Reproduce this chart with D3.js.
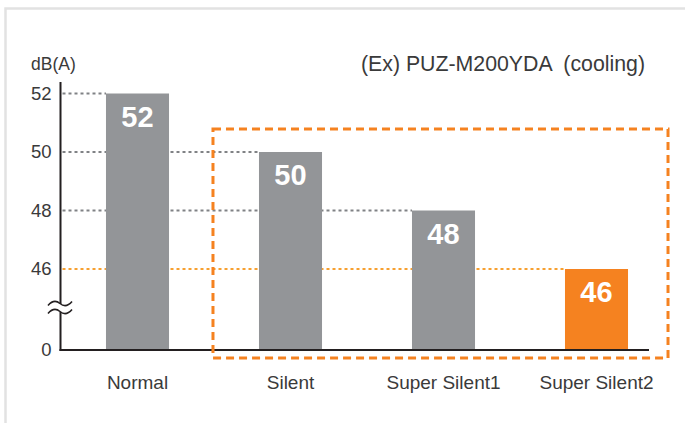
<!DOCTYPE html>
<html><head><meta charset="utf-8">
<script src="https://cdn.jsdelivr.net/npm/d3@7"></script>
<style>body{margin:0;background:#fff;} svg{display:block;font-family:"Liberation Sans",Arial,sans-serif;}</style>
</head><body><svg id="c" width="685" height="423"></svg>
<script>
const categories = ["Normal", "Silent", "Super Silent1", "Super Silent2"];
const values = [52, 50, 48, 46];
const highlighted = ["Silent", "Super Silent1", "Super Silent2"];
const tickValues = [0, 46, 48, 50, 52];
const unitLabel = "dB(A)";
const title = "(Ex) PUZ-M200YDA  (cooling)";

const gray = "#939598", orange = "#f58220";
const svg = d3.select("#c");

// light frame
svg.append("path").attr("d", "M5.5,423 V8.5 H685").attr("fill", "none")
  .attr("stroke", "#e2e2e2").attr("stroke-width", 2.5);

const x = d3.scaleBand().domain(categories).range([61, 673])
  .paddingInner(0.588).paddingOuter(0.294);
const y = d3.scaleLinear().domain([0, 46, 52]).range([350, 269, 93.5]);
const axisX = 60.5, baseY = y(0);

// reference dotted lines
svg.append("g").selectAll("line").data(categories).join("line")
  .attr("x1", axisX + 2).attr("x2", d => x(d))
  .attr("y1", (d, i) => y(values[i])).attr("y2", (d, i) => y(values[i]))
  .attr("stroke", (d, i) => i === categories.length - 1 ? "#f7a030" : "#808285")
  .attr("stroke-width", 2).attr("stroke-dasharray", "3,3");

// bars
svg.append("g").selectAll("rect").data(categories).join("rect")
  .attr("x", d => x(d)).attr("width", x.bandwidth())
  .attr("y", (d, i) => y(values[i])).attr("height", (d, i) => baseY - y(values[i]))
  .attr("fill", (d, i) => i === categories.length - 1 ? orange : gray);

// value labels
svg.append("g").selectAll("text").data(categories).join("text")
  .attr("x", d => x(d) + x.bandwidth() / 2).attr("y", (d, i) => y(values[i]) + 33)
  .attr("text-anchor", "middle").attr("fill", "#fff").attr("font-weight", "bold")
  .attr("font-size", 29).text((d, i) => values[i]);

// y axis ticks
const yAxis = svg.append("g").attr("transform", `translate(${axisX},0)`)
  .call(d3.axisLeft(y).tickValues(tickValues).tickSize(0).tickPadding(9));
yAxis.select(".domain").remove();
yAxis.attr("font-size", 18.5);
yAxis.selectAll("text").attr("font-size", 18.5).attr("fill", "#3a3a3a")
  .attr("font-family", "Liberation Sans, Arial, sans-serif");

// y axis line with break
svg.append("line").attr("x1", axisX).attr("x2", axisX).attr("y1", 82).attr("y2", baseY + 1)
  .attr("stroke", "#231f20").attr("stroke-width", 2);
svg.append("rect").attr("x", axisX - 3).attr("y", 304).attr("width", 6).attr("height", 8).attr("fill", "#fff");
[303.5, 311.5].forEach(yy => {
  svg.append("path").attr("d", `M48,${yy + 2} Q54,${yy - 5} 60,${yy} T72,${yy - 2}`)
    .attr("fill", "none").attr("stroke", "#231f20").attr("stroke-width", 1.6);
});

// x axis
const xAxis = svg.append("g").attr("transform", `translate(0,${baseY})`)
  .call(d3.axisBottom(x).tickSize(0).tickPadding(25.5));
xAxis.select(".domain").remove();
xAxis.attr("font-size", 19);
xAxis.selectAll("text").attr("font-size", 19).attr("fill", "#3a3a3a")
  .attr("font-family", "Liberation Sans, Arial, sans-serif");
svg.append("line").attr("x1", axisX - 1).attr("x2", 649).attr("y1", baseY).attr("y2", baseY)
  .attr("stroke", "#231f20").attr("stroke-width", 2);

// highlight box
const bx0 = x(highlighted[0]) - 46, bx1 = x(highlighted[highlighted.length - 1]) + x.bandwidth() + 40;
svg.append("rect").attr("x", bx0).attr("y", 129).attr("width", bx1 - bx0).attr("height", 229)
  .attr("fill", "none").attr("stroke", orange).attr("stroke-width", 3).attr("stroke-dasharray", "8,5");

// labels
svg.append("text").attr("x", 31).attr("y", 69.5).attr("font-size", 17.5).attr("fill", "#3a3a3a").text(unitLabel);
svg.append("text").attr("x", 645).attr("y", 70.5).attr("text-anchor", "end").attr("font-size", 21.3)
  .attr("fill", "#3a3a3a").style("white-space", "pre").text(title);
</script></body></html>
